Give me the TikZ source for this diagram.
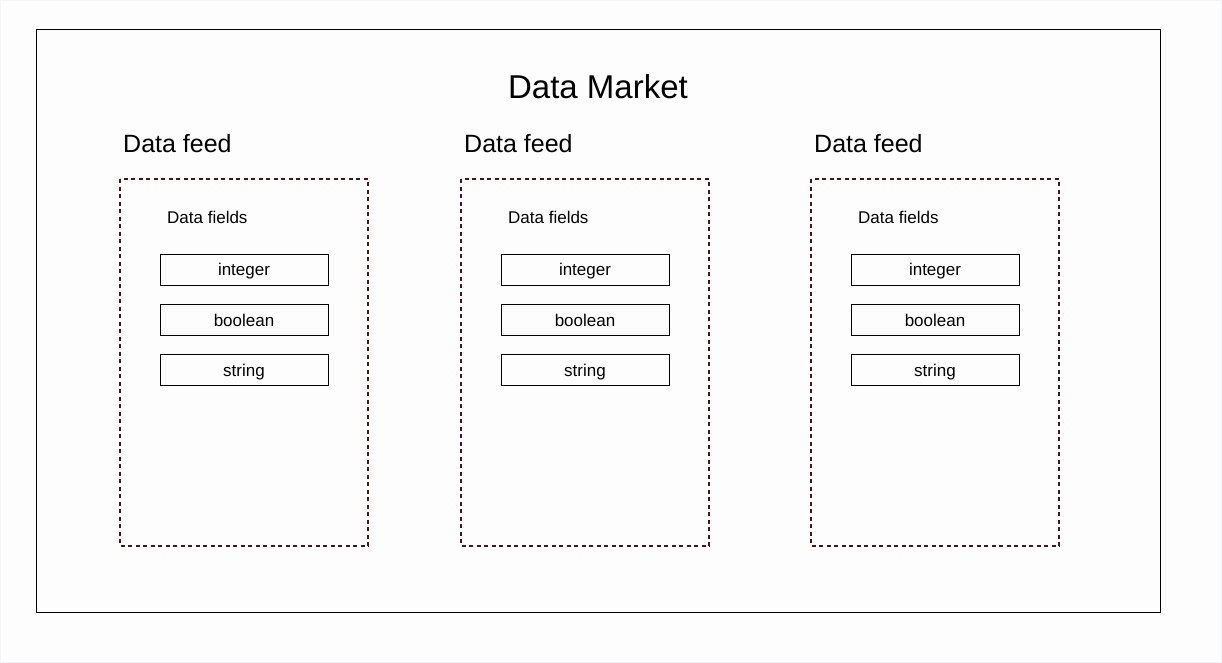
\documentclass[tikz,border=0pt]{standalone}
\usepackage{fontspec}
\setmainfont{Liberation Sans}
\definecolor{bg}{HTML}{FDFDFD}
\definecolor{bgedge}{HTML}{F2F4F8}
\definecolor{feedline}{HTML}{4A1414}
\tikzset{
  every node/.style={font=\fontsize{17}{20}\selectfont, inner sep=0pt},
  outerbox/.style={draw=black, line width=1pt},
  feedbox/.style={draw=feedline, line width=1.1pt, dash pattern=on 4pt off 3.5pt},
  fieldbox/.style={draw=black, line width=1pt, minimum width=168pt, minimum height=31pt, text height=12.4pt, text depth=0pt},
  feedlabel/.style={anchor=west, font=\fontsize{25}{30}\selectfont},
  fieldslabel/.style={anchor=west},
  titlelabel/.style={font=\fontsize{33}{40}\selectfont}
}
\begin{document}
\begin{tikzpicture}[x=1pt,y=-1pt]
\path[fill=bg, draw=bgedge, line width=1pt] (0.5,0.5) rectangle (1221.5,662.5);
\useasboundingbox (0,0) rectangle (1222,663);
\draw[outerbox] (36,30) rectangle (1160,612);
\node[titlelabel] (title) at (598,87) {Data Market};
\foreach \i/\x in {1/120, 2/461, 3/811} {
  \node[feedlabel] (feed\i) at (\x+3,144) {Data feed};
  \draw[feedbox] (\x,179) rectangle (\x+248,546);
  \node[fieldslabel] (fields\i) at (\x+47,217) {Data fields};
  \node[fieldbox] (int\i) at (\x+124,269.5) {integer};
  \node[fieldbox] (bool\i) at (\x+124,320) {boolean};
  \node[fieldbox] (str\i) at (\x+124,370) {string};
}
\end{tikzpicture}
\end{document}
